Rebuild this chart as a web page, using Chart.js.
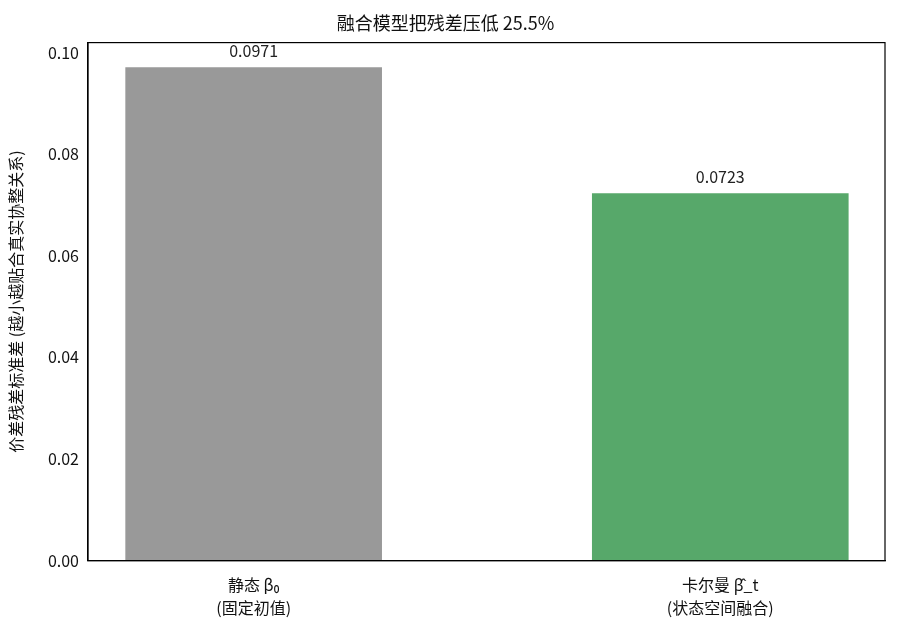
<!DOCTYPE html>
<html>
<head>
<meta charset="utf-8">
<script src="https://cdn.jsdelivr.net/npm/chart.js@4"></script>
<style>
  html, body { margin: 0; padding: 0; background: #fff; }
  #wrap { width: 897px; height: 637px; }
</style>
</head>
<body>
<div id="wrap"><canvas id="residChart"></canvas></div>
<script>
// --- Dados do gráfico ---
const categorias = [['静态 β₀', '(固定初值)'], ['卡尔曼 β\u0302_t', '(状态空间融合)']];
const residuos = [0.0971, 0.0723];
const cores = ['#999999', '#57a86a'];
const yTicks = [0, 0.02, 0.04, 0.06, 0.08, 0.10];
const titulo = '融合模型把残差压低 25.5%';
const rotuloY = '价差残差标准差 (越小越贴合真实协整关系)';

const FONTE = '"Noto Sans CJK SC", "Noto Sans", sans-serif';

// escreve o valor em cima de cada barra
const valorPlugin = {
  id: 'valorPlugin',
  afterDatasetsDraw(chart) {
    const ctx = chart.ctx;
    const meta = chart.getDatasetMeta(0);
    ctx.save();
    ctx.font = '16px ' + FONTE;
    ctx.fillStyle = '#222';
    ctx.textAlign = 'center';
    ctx.textBaseline = 'middle';
    meta.data.forEach((bar, i) => {
      ctx.fillText(residuos[i].toFixed(4), bar.x, bar.y - 16);
    });
    ctx.restore();
  }
};

// moldura completa em volta da área do gráfico
const moldura = {
  id: 'moldura',
  afterDraw(chart) {
    const a = chart.chartArea;
    const ctx = chart.ctx;
    ctx.save();
    ctx.strokeStyle = '#000';
    ctx.lineWidth = 1.2;
    ctx.strokeRect(a.left, a.top, a.right - a.left, a.bottom - a.top);
    ctx.restore();
  }
};

const ctx = document.getElementById('residChart').getContext('2d');
const residChart = new Chart(ctx, {
  type: 'bar',
  data: {
    datasets: [{
      data: residuos.map((v, i) => ({ x: i, y: v })),
      backgroundColor: cores,
      borderWidth: 0,
      barPercentage: 0.55,
      categoryPercentage: 1.0
    }]
  },
  options: {
    responsive: true,
    maintainAspectRatio: false,
    animation: false,
    layout: { padding: { left: 6, right: 12, top: 10, bottom: 9 } },
    plugins: {
      legend: { display: false },
      tooltip: { enabled: false },
      title: {
        display: true,
        text: titulo,
        color: '#111',
        font: { family: FONTE, size: 18, weight: 'normal' },
        padding: { top: 2, bottom: 9 }
      }
    },
    scales: {
      x: {
        type: 'linear',
        min: -0.355,
        max: 1.353,
        offset: false,
        grid: { display: false, drawTicks: true, tickLength: 5, tickColor: '#000' },
        border: { color: '#000', width: 1.2 },
        afterBuildTicks: axis => { axis.ticks = categorias.map((c, i) => ({ value: i })); },
        ticks: {
          color: '#111',
          font: { family: FONTE, size: 16, lineHeight: 1.45 },
          padding: 8,
          maxRotation: 0,
          callback: v => categorias[v]
        }
      },
      y: {
        min: 0,
        max: 0.10196,
        grid: { display: false, drawTicks: true, tickLength: 5, tickColor: '#000' },
        border: { color: '#000', width: 1.2 },
        afterBuildTicks: axis => { axis.ticks = yTicks.map(v => ({ value: v })); },
        afterFit: axis => { axis.width = 82; },
        ticks: {
          color: '#111',
          font: { family: FONTE, size: 16 },
          padding: 4,
          callback: v => v.toFixed(2)
        },
        title: {
          display: true,
          text: rotuloY,
          color: '#111',
          font: { family: FONTE, size: 16 },
          padding: { top: 0, bottom: 4 }
        }
      }
    }
  },
  plugins: [valorPlugin, moldura]
});
</script>
</body>
</html>
